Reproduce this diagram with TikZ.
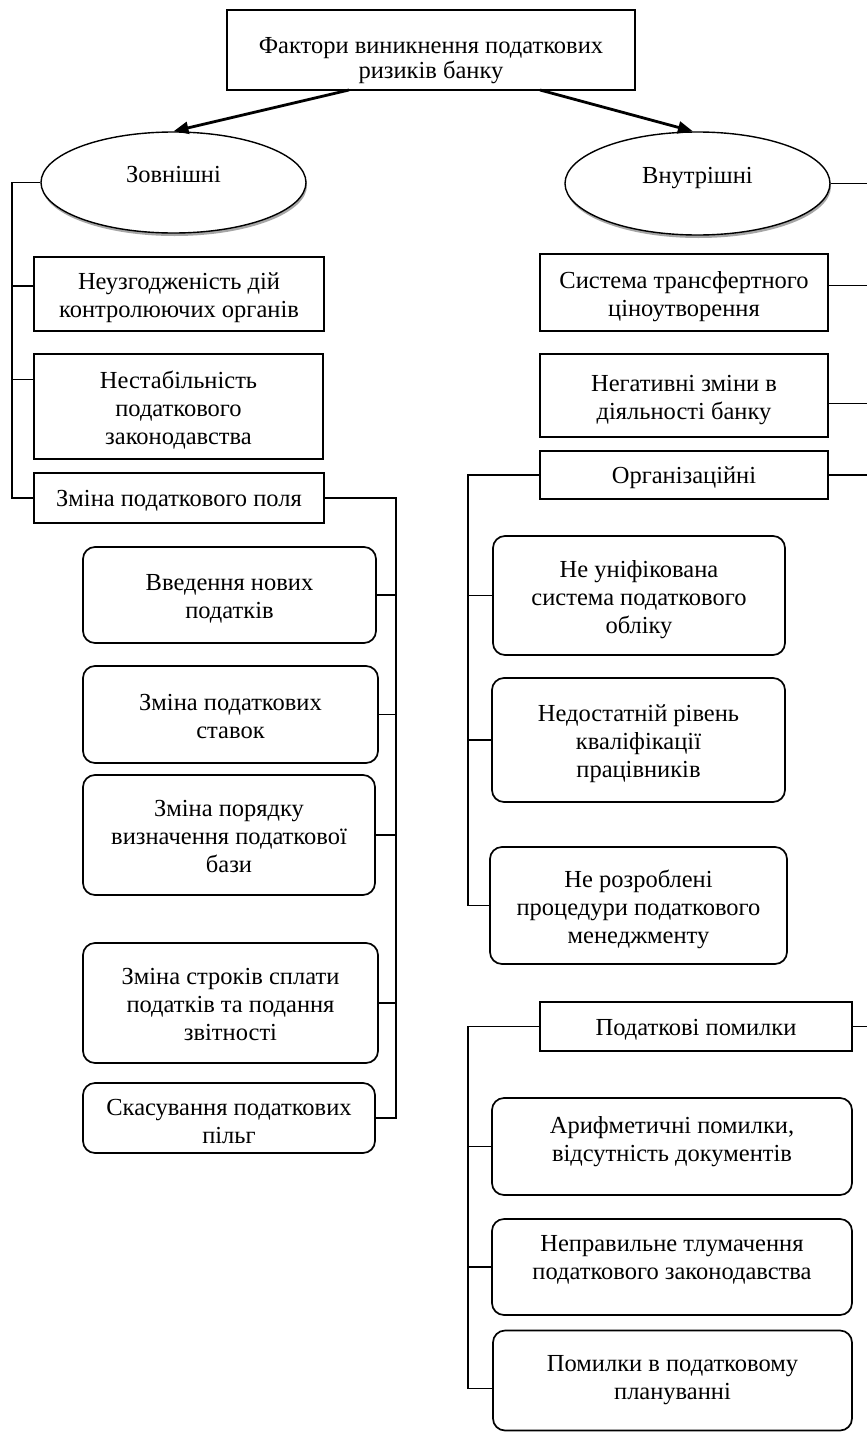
\documentclass[tikz,border=0pt]{standalone}
\usepackage{fontspec}
\setmainfont{Liberation Serif}
\usetikzlibrary{arrows.meta,shapes.geometric,shadows}
\begin{document}
\begin{tikzpicture}[x=1pt,y=-1pt,
  every node/.style={font=\fontsize{24.5}{28}\selectfont, align=center, inner sep=0pt},
  txt/.style 2 args={execute at begin node={\vrule width 0pt height #1 depth #2\relax}},
  oneline/.style={txt={24pt}{7pt}},
  twolines/.style={txt={54pt}{7pt}},
  threelines/.style={txt={82pt}{7pt}},
  box/.style={draw, line width=1.7pt, fill=white},
  rbox/.style={draw, line width=1.7pt, rounded corners=12pt, fill=white},
  oval/.style={draw, ellipse, line width=1.4pt, fill=white, text height=16pt, text depth=16pt,
     drop shadow={shadow xshift=1pt, shadow yshift=-3pt, fill=black!35, opacity=1}},
  link/.style={line width=1.7pt},
  arr/.style={line width=2.8pt, -{Triangle[length=15pt,width=12pt]}}
]
\useasboundingbox (0,0) rectangle (867,1432);
\fill[white] (0,0) rectangle (867,1432);

% title
\node[box, txt={64pt}{7pt}, minimum width=408pt, minimum height=80pt, font=\fontsize{24.5}{25.5}\selectfont] (t) at (431,50) {Фактори виникнення податкових\\ризиків банку};

% ellipses
\node[oval, minimum width=265pt, minimum height=101pt] (zov) at (173.5,182.5) {Зовнішні};
\node[oval, minimum width=265pt, minimum height=103pt] (vn) at (697.5,183.5) {Внутрішні};

\coordinate (s1) at (349,90);
\coordinate (s2) at (540,90);
\draw[arr] (s1) -- (zov.north);
\draw[arr] (s2) -- (vn.95);

% left column
\node[box, twolines, minimum width=290pt, minimum height=74pt] (n1) at (179,294) {Неузгодженість дій\\контролюючих органів};
\node[box, threelines, minimum width=289pt, minimum height=105pt] (n2) at (178.5,406.5) {Нестабільність\\податкового\\законодавства};
\node[box, oneline, minimum width=290pt, minimum height=50pt] (n3) at (179,498) {Зміна податкового поля};

\node[rbox, twolines, minimum width=293pt, minimum height=96pt] (r1) at (229.5,595) {Введення нових\\податків};
\node[rbox, twolines, minimum width=295pt, minimum height=97pt] (r2) at (230.5,714.5) {Зміна податкових\\ставок};
\node[rbox, threelines, minimum width=292pt, minimum height=120pt] (r3) at (229,835) {Зміна порядку\\визначення податкової\\бази};
\node[rbox, threelines, minimum width=295pt, minimum height=120pt] (r4) at (230.5,1003) {Зміна строків сплати\\податків та подання\\звітності};
\node[rbox, txt={58pt}{7pt}, minimum width=292pt, minimum height=70pt] (r5) at (229,1118) {Скасування податкових\\пільг};

\coordinate (L) at (12,0);
\coordinate (M) at (396,0);
\draw[link] (zov.west) -- (zov.west -| L) -- (n3.west -| L) -- (n3.west);
\draw[link] ([yshift=8pt]n1.west) -- ([yshift=8pt]n1.west -| L);
\draw[link] ([yshift=27pt]n2.west) -- ([yshift=27pt]n2.west -| L);

\draw[link] (n3.east) -- (n3.east -| M) -- (r5.east -| M) -- (r5.east);
\draw[link] (r1.east) -- (r1.east -| M);
\draw[link] (r2.east) -- (r2.east -| M);
\draw[link] (r3.east) -- (r3.east -| M);
\draw[link] (r4.east) -- (r4.east -| M);

% right column
\node[box, twolines, minimum width=288pt, minimum height=77pt] (v1) at (684,292.5) {Система трансфертного\\ціноутворення};
\node[box, twolines, minimum width=288pt, minimum height=83pt] (v2) at (684,395.5) {Негативні зміни в\\діяльності банку};
\node[box, oneline, minimum width=288pt, minimum height=48pt] (v3) at (684,475) {Організаційні};

\node[rbox, threelines, minimum width=292pt, minimum height=119pt] (o1) at (639,595.5) {Не уніфікована\\система податкового\\обліку};
\node[rbox, threelines, minimum width=293pt, minimum height=124pt] (o2) at (638.5,740) {Недостатній рівень\\кваліфікації\\працівників};
\node[rbox, threelines, minimum width=297pt, minimum height=117pt] (o3) at (638.5,905.5) {Не розроблені\\процедури податкового\\менеджменту};

\node[box, oneline, minimum width=312pt, minimum height=49pt] (v4) at (696,1026.5) {Податкові помилки};

\node[rbox, txt={52pt}{23pt}, minimum width=360pt, minimum height=97pt] (p1) at (672,1146.5) {Арифметичні помилки,\\відсутність документів};
\node[rbox, txt={52pt}{27pt}, minimum width=360pt, minimum height=96pt] (p2) at (672,1267) {Неправильне тлумачення\\податкового законодавства};
\node[rbox, txt={52pt}{15pt}, minimum width=359pt, minimum height=100pt] (p3) at (672.5,1380.5) {Помилки в податковому\\плануванні};

\coordinate (E) at (867,0);
\coordinate (R) at (468,0);
\draw[link] (vn.east) -- (vn.east -| E);
\draw[link] ([yshift=7pt]v1.east) -- ([yshift=7pt]v1.east -| E);
\draw[link] ([yshift=-8pt]v2.east) -- ([yshift=-8pt]v2.east -| E);
\draw[link] (v3.east) -- (v3.east -| E);
\draw[link] (v4.east) -- (v4.east -| E);

\draw[link] (v3.west) -- (v3.west -| R) -- (o3.west -| R) -- (o3.west);
\draw[link] (o1.west) -- (o1.west -| R);
\draw[link] (o2.west) -- (o2.west -| R);

\draw[link] (v4.west) -- (v4.west -| R) -- ([yshift=-8pt]p3.west -| R) -- ([yshift=-8pt]p3.west);
\draw[link] (p1.west) -- (p1.west -| R);
\draw[link] (p2.west) -- (p2.west -| R);
\end{tikzpicture}
\end{document}
